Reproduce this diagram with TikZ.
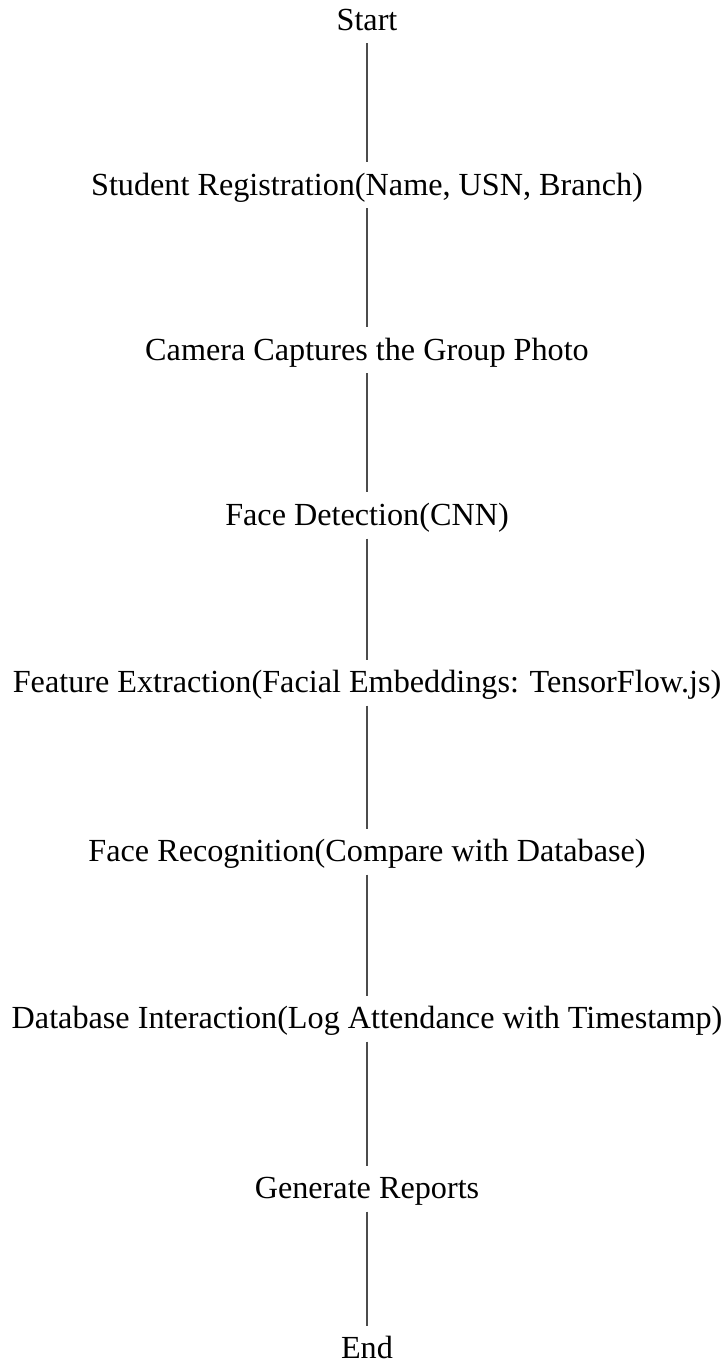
\documentclass[tikz,border=0pt]{standalone}
\usepackage{fontspec}
\setmainfont{Liberation Serif}
\begin{document}
\begin{tikzpicture}[x=0.5pt,y=-0.5pt,
  stepnode/.style={inner sep=0pt, outer sep=0pt, text height=1.05em, text depth=0.3em, font=\fontsize{16.1}{19}\selectfont},
  link/.style={draw=black!70, line width=1pt, shorten >=12pt*0.5, shorten <=7pt*0.5}]
\useasboundingbox (0,0) rectangle (726,1368);
\node[stepnode] (n1) at (367,23) {Start};
\node[stepnode] (n2) at (367,188) {Student Registration(Name, USN, Branch)};
\node[stepnode] (n3) at (367,353) {Camera Captures the Group Photo};
\node[stepnode] (n4) at (367,518) {Face Detection(CNN)};
\node[stepnode] (n5) at (367,685) {Feature Extraction(Facial Embeddings: TensorFlow.js)};
\node[stepnode] (n6) at (367,854) {Face Recognition(Compare with Database)};
\node[stepnode] (n7) at (367,1021) {Database Interaction(Log Attendance with Timestamp)};
\node[stepnode] (n8) at (367,1191) {Generate Reports};
\node[stepnode] (n9) at (367,1351) {End};
\foreach \a/\b in {n1/n2,n2/n3,n3/n4,n4/n5,n5/n6,n6/n7,n7/n8,n8/n9}
  \draw[link] (\a) -- (\b);
\end{tikzpicture}
\end{document}
